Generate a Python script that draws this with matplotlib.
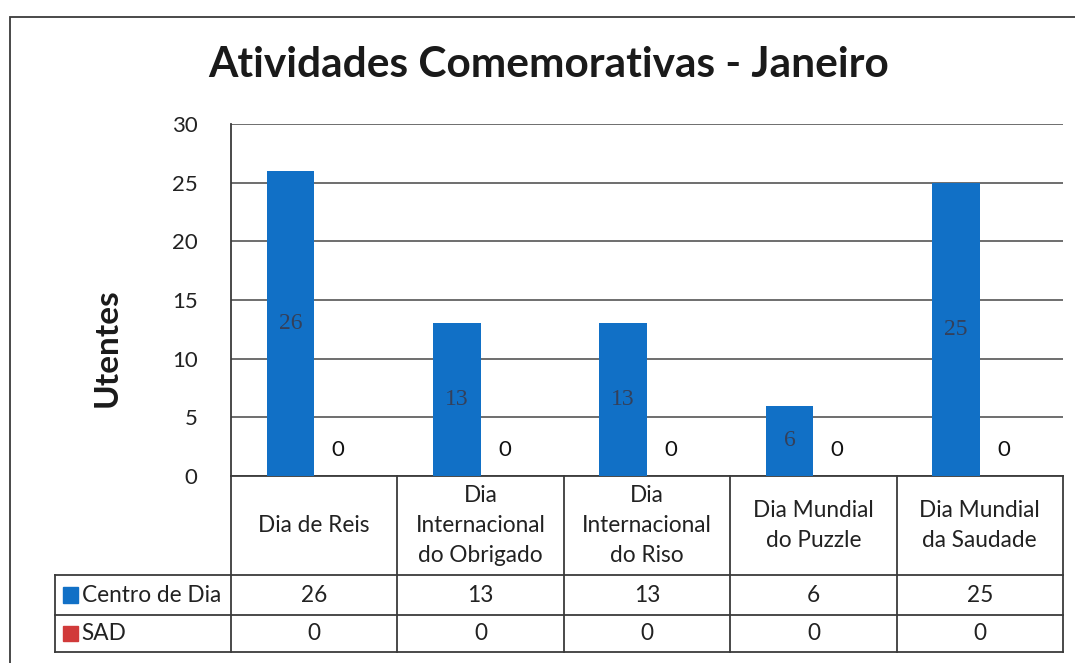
import numpy as np
import matplotlib
matplotlib.use("Agg")
import matplotlib.pyplot as plt
from matplotlib.patches import Rectangle

plt.rcParams['font.family'] = ['Lato', 'DejaVu Sans']

categories = ["Dia de Reis", "Dia\nInternacional\ndo Obrigado", "Dia\nInternacional\ndo Riso",
              "Dia Mundial\ndo Puzzle", "Dia Mundial\nda Saudade"]
series_names = ["Centro de Dia", "SAD"]
centro_dia = [26, 13, 13, 6, 25]
sad = [0, 0, 0, 0, 0]
yticks = [0, 5, 10, 15, 20, 25, 30]

blue = '#1170C6'
red = '#D13A3A'
line_col = '#3a3a3a'

W, H = 1075, 663
fig = plt.figure(figsize=(W / 100, H / 100), dpi=100)
fig.patch.set_facecolor('white')

# plot area in pixels: x 231..1063, y 124..476
px_l, px_r, px_t, px_b = 231, 1063, 124, 476
ax = fig.add_axes([px_l / W, 1 - px_b / H, (px_r - px_l) / W, (px_b - px_t) / H])

n = len(categories)
x = np.arange(n)
bw = 1 / 3.5
ax.bar(x - bw / 2, centro_dia, bw, color=blue, zorder=3)
ax.bar(x + bw / 2, sad, bw, color=red, zorder=3)

for xi, v in zip(x, centro_dia):
    ax.text(xi - bw / 2, v / 2, str(v), ha='center', va='center', fontsize=17,
            color='#34405a', family=['Liberation Serif'], zorder=4)
for xi, v in zip(x, sad):
    ax.annotate(str(v), (xi + bw / 2, v), xytext=(0, 19), textcoords='offset points',
                ha='center', va='center', fontsize=16, color='#111111', zorder=4)

ax.set_xlim(-0.5, n - 0.5)
ax.set_ylim(0, 30)
ax.set_yticks(yticks)
ax.set_xticks([])
ax.tick_params(axis='y', length=0, pad=24, labelsize=16, labelcolor='#222222')
ax.yaxis.grid(True, color='#555555', linewidth=1.2, zorder=0)
for s in ['top', 'right']:
    ax.spines[s].set_visible(False)
ax.spines['left'].set_color(line_col)
ax.spines['left'].set_linewidth(1.3)
ax.spines['bottom'].set_color(line_col)
ax.spines['bottom'].set_linewidth(1.3)

# data table below the plot area
def ay(py):
    return (px_b - py) / (px_b - px_t)

ax.set_ylabel("Utentes", fontsize=24, fontweight='bold', color='#1a1a1a')
ax.yaxis.set_label_coords((122 - px_l) / (px_r - px_l), ay(348))

y_hdr, y_r1, y_r2 = ay(575), ay(615), ay(652)
x_left = -0.5 - (px_l - 55) / ((px_r - px_l) / n)
tr = ax.get_xaxis_transform()
kw = dict(color=line_col, linewidth=1.3, transform=tr, clip_on=False)

for xb in np.arange(n + 1) - 0.5:
    ax.plot([xb, xb], [0, y_r2], **kw)
ax.plot([x_left, x_left], [y_hdr, y_r2], **kw)
for yy in [y_hdr, y_r1, y_r2]:
    ax.plot([x_left, n - 0.5], [yy, yy], **kw)

for xi, c in zip(x, categories):
    ax.text(xi, (0 + y_hdr) / 2, c, ha='center', va='center', fontsize=16.3,
            linespacing=1.5, transform=tr, color='#222222')

rows = [centro_dia, sad]
row_y = [(y_hdr + y_r1) / 2, (y_r1 + y_r2) / 2]
for vals, ry, name, col in zip(rows, row_y, series_names, [blue, red]):
    for xi, v in zip(x, vals):
        ax.text(xi, ry, str(v), ha='center', va='center', fontsize=16.3,
                transform=tr, color='#222222')
    ax.add_patch(Rectangle((x_left + 0.048, ry - 0.022), 0.09, 0.044, color=col,
                           transform=tr, clip_on=False))
    ax.text(x_left + 0.16, ry, name, ha='left', va='center', fontsize=16.3,
            transform=tr, color='#222222')

fig.text(549 / W, 1 - 65 / H, "Atividades Comemorativas - Janeiro", ha='center', va='center',
         fontsize=30.5, fontweight='bold', color='#1a1a1a')

# outer chart border
fig.add_artist(Rectangle((10 / W, -0.1), 1.2, 1 - 17 / H + 0.1, transform=fig.transFigure,
                         fill=False, edgecolor=line_col, linewidth=1.3))

fig.savefig("out.png", dpi=100)
